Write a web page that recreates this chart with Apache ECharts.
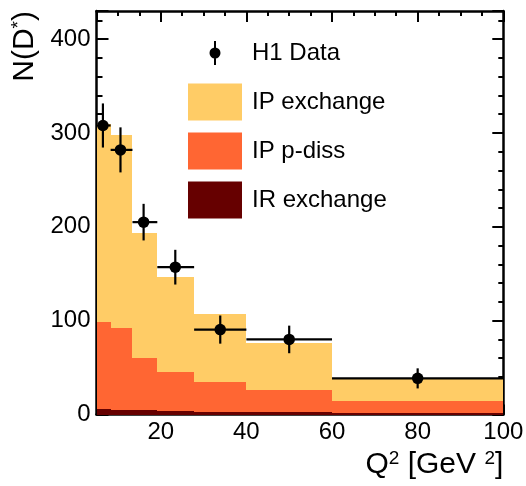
<!DOCTYPE html>
<html><head><meta charset="utf-8">
<script src="https://cdn.jsdelivr.net/npm/echarts@6/dist/echarts.min.js"></script>
<style>html,body{margin:0;padding:0;background:#fff}#c{width:526px;height:486px}</style>
</head><body><div id="c"></div>
<script>
// ---- data ----
const binEdges   = [5, 8.3, 13.4, 19.2, 27.8, 40, 60, 100];
const ipExchange = [211, 206, 133, 101, 72, 50, 24];
const ipPdiss    = [93, 87, 55.5, 41.3, 32, 23.5, 12.5];
const irExchange = [6, 5, 4.5, 3.7, 3, 2.5, 1.5];
const dataX      = [6.5, 10.6, 16.0, 23.4, 33.9, 50, 80];
const dataY      = [308, 282, 205, 157, 90.5, 80, 38.5];
const dataErr    = [23.5, 24, 19.5, 18.5, 15, 14.7, 10.7];
const xTickLabels = [20, 40, 60, 80, 100];
const yTickLabels = [0, 100, 200, 300, 400];

const FONT = "'Liberation Sans', Arial, Helvetica, sans-serif";
const C_IP = '#FFCC66', C_PD = '#FF6633', C_IR = '#660000';

// cumulative stack tops
const topIR = irExchange.slice();
const topPD = irExchange.map((v, i) => v + ipPdiss[i]);
const topIP = topPD.map((v, i) => v + ipExchange[i]);

function binSeries(name, color, tops, z) {
  return {
    type: 'custom', name, xAxisIndex: 0, yAxisIndex: 0, z,
    itemStyle: { color, opacity: 1 },
    encode: { x: [0, 1], y: [2, 3] },
    data: tops.map((t, i) => [binEdges[i], binEdges[i + 1], 0, t]),
    renderItem: (params, api) => {
      const a = api.coord([api.value(0), api.value(3)]);
      const b = api.coord([api.value(1), api.value(2)]);
      const x0 = Math.round(a[0]), x1 = Math.round(b[0]);
      const y0 = Math.round(a[1]), y1 = Math.round(b[1]);
      return { type: 'rect', shape: { x: x0, y: y0, width: x1 - x0, height: y1 - y0 },
               style: { fill: color } };
    }
  };
}

const errData = dataX.map((x, i) => [x, dataY[i], binEdges[i], binEdges[i + 1], dataY[i] - dataErr[i], dataY[i] + dataErr[i]]);

const H1_ICON = 'path://M0,0 M54,37 M26,6.5 L28,6.5 L28,14 L26,14 Z M26,23 L28,23 L28,30.5 L26,30.5 Z M32.5,18.5 A5.5,5.5 0 1,1 21.5,18.5 A5.5,5.5 0 1,1 32.5,18.5 Z';

const tickStyle = { color: '#000', width: 2 };
const lineStyle = { color: '#000', width: 2.5 };
const richTitle = {
  n: { fontSize: 30, fontFamily: FONT, color: '#000' },
  s: { fontSize: 19, fontFamily: FONT, color: '#000', verticalAlign: 'top' }
};

function xAx(pos, main) {
  return {
    type: 'value', position: pos, min: 5, max: 100, splitNumber: 5,
    axisLine: { show: true, onZero: false, lineStyle },
    axisTick: { show: true, inside: true, length: main ? 10 : 11, lineStyle: tickStyle },
    minorTick: { show: true, splitNumber: 4, length: 5, lineStyle: tickStyle },
    splitLine: { show: false }, minorSplitLine: { show: false },
    axisLabel: { show: main, margin: 6, fontSize: 24, color: '#000', fontFamily: FONT,
                 formatter: v => xTickLabels.includes(v) ? String(v) : '' },
    name: main ? '{n|Q}{s|2}{n| [GeV }{s|2}{n|]}' : '',
    nameLocation: 'end', nameGap: 0, nameMoveOverlap: false,
    nameTextStyle: { align: 'right', verticalAlign: 'top', padding: [35, 0, 0, 0], fontSize: 30, fontFamily: FONT, color: '#000', rich: richTitle }
  };
}
function yAx(pos, main) {
  return {
    type: 'value', position: pos, min: 0, max: 430, splitNumber: 5,
    axisLine: { show: true, onZero: false, lineStyle },
    axisTick: { show: true, inside: true, length: main ? 12 : 11, lineStyle: tickStyle },
    minorTick: { show: true, splitNumber: 5, length: main ? 6 : 5, lineStyle: tickStyle },
    splitLine: { show: false }, minorSplitLine: { show: false },
    axisLabel: { show: main, margin: 6, fontSize: 24, color: '#000', fontFamily: FONT,
                 formatter: v => yTickLabels.includes(v) ? String(v) : '' },
    name: main ? '{n|N(D}{s|*}{n|)}' : '',
    nameLocation: 'end', nameGap: 0, nameRotate: 90, nameMoveOverlap: false,
    nameTextStyle: { align: 'right', verticalAlign: 'bottom', padding: [0, 0, 57, 0], fontSize: 30, fontFamily: FONT, color: '#000', rich: richTitle }
  };
}

const option = {
  animation: false,
  backgroundColor: '#fff',
  grid: { left: 96.5, right: 22.7, top: 11, bottom: 71.5, containLabel: false, outerBoundsMode: 'none' },
  xAxis: [xAx('bottom', true), xAx('top', false)],
  yAxis: [yAx('left', true), yAx('right', false)],
  legend: {
    orient: 'vertical', left: 188, top: 34.5, padding: 0, itemWidth: 54, itemHeight: 37, itemGap: 12,
    selectedMode: false,
    itemStyle: { opacity: 1 },
    textStyle: { fontSize: 24, color: '#000', fontFamily: FONT, padding: [0, 0, 0, 5] },
    data: [
      { name: 'H1 Data', icon: H1_ICON },
      { name: 'IP exchange', icon: 'rect' },
      { name: 'IP p-diss', icon: 'rect' },
      { name: 'IR exchange', icon: 'rect' }
    ]
  },
  series: [
    binSeries('IP exchange', C_IP, topIP, 1),
    binSeries('IP p-diss', C_PD, topPD, 2),
    binSeries('IR exchange', C_IR, topIR, 3),
    {
      type: 'custom', name: 'errors', xAxisIndex: 0, yAxisIndex: 0, z: 5,
      encode: { x: [0, 2, 3], y: [1, 4, 5] },
      data: errData,
      renderItem: (params, api) => {
        const x = api.value(0), y = api.value(1);
        const p1 = api.coord([api.value(2), y]), p2 = api.coord([api.value(3), y]);
        const p3 = api.coord([x, api.value(4)]), p4 = api.coord([x, api.value(5)]);
        return { type: 'group', children: [
          { type: 'line', shape: { x1: p1[0], y1: p1[1], x2: p2[0], y2: p2[1] }, style: { stroke: '#000', lineWidth: 2.2 } },
          { type: 'line', shape: { x1: p3[0], y1: p3[1], x2: p4[0], y2: p4[1] }, style: { stroke: '#000', lineWidth: 2.2 } }
        ] };
      }
    },
    {
      type: 'scatter', name: 'H1 Data', xAxisIndex: 0, yAxisIndex: 0, z: 6,
      symbol: 'circle', symbolSize: 11.5, itemStyle: { color: '#000', opacity: 1 },
      data: dataX.map((x, i) => [x, dataY[i]])
    }
  ]
};
const chart = echarts.init(document.getElementById('c'));
chart.setOption(option);
</script></body></html>
